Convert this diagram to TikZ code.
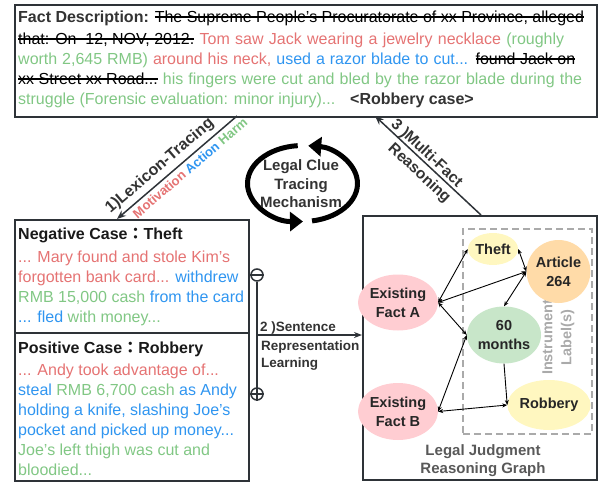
\documentclass[tikz,border=0pt]{standalone}
\usepackage{fontspec}
\setmainfont{Liberation Sans}
\newfontfamily\cjkfont{Noto Sans CJK JP}
\usetikzlibrary{shapes.geometric,arrows.meta}
\definecolor{cred}{HTML}{E57373}
\definecolor{cgreen}{HTML}{81C784}
\definecolor{cblue}{HTML}{2F95F0}
\definecolor{cdark}{HTML}{333333}
\definecolor{cbox}{HTML}{2E3338}
\definecolor{cpink}{HTML}{FFCDD2}
\definecolor{cyellow}{HTML}{FFF7C0}
\definecolor{corange}{HTML}{FFDBA8}
\definecolor{cgreenf}{HTML}{C8E6C9}
\definecolor{cgray}{HTML}{AAAAAA}
\newcommand\cR[1]{\textcolor{cred}{#1}}
\newcommand\cG[1]{\textcolor{cgreen}{#1}}
\newcommand\cB[1]{\textcolor{cblue}{#1}}
\newcommand\fwcolon{{\cjkfont ：}}
\newsavebox\strkbox
\newcommand\strk[1]{\sbox\strkbox{#1}\rlap{\rule[4.4pt]{\wd\strkbox}{1.3pt}}\usebox\strkbox}
\begin{document}
\begin{tikzpicture}[x=1pt,y=1pt,
  box/.style={draw=cbox, line width=1.6pt, inner sep=0pt, anchor=north west},
  txt/.style={anchor=base west, inner sep=0pt, font=\fontsize{16}{19}\selectfont},
  gnode/.style={ellipse, inner sep=0pt, align=center, text=black!85,
    font=\bfseries\fontsize{14.5}{19}\selectfont},
  gedge/.style={line width=0.9pt, {Stealth[length=5pt,width=4pt]}-{Stealth[length=5pt,width=4pt]}},
  gedgeone/.style={line width=0.9pt, -{Stealth[length=5pt,width=4pt]}},
  bigarrow/.style={line width=1.5pt, -{Stealth[length=9pt,width=7pt]}},
  loop/.style={line width=5pt, -{Triangle[length=13pt,width=19pt]}},
  lbl/.style={text=cdark, inner sep=0pt}]
\useasboundingbox (0,0) rectangle (598,-482);

% ---------- fact description box ----------
\node[box, minimum width=582pt, minimum height=112pt] (fact) at (14,-4) {};
\node[txt] (f1) at (18,-22) {\textcolor{cdark}{\bfseries Fact Description:} \strk{The Supreme People's Procuratorate of xx Province, alleged}};
\node[txt] (f2) at (18,-44) {\makebox[546pt][s]{\strk{that: On\ \ 12, NOV, 2012.} \cR{Tom saw Jack wearing a jewelry necklace} \cG{(roughly}}};
\node[txt] (f3) at (18,-64) {\makebox[557pt][s]{\cG{worth 2,645 RMB)} \cR{around his neck,} \cB{used a razor blade to cut...} \strk{found Jack on}}};
\node[txt] (f4) at (18,-84) {\makebox[564pt][s]{\strk{xx Street xx Road...} \cG{his fingers were cut and bled by the razor blade during the}}};
\node[txt] (f5) at (18,-104) {\cG{struggle (Forensic evaluation: minor injury)...}};
\node[txt, font=\bfseries\fontsize{16}{19}\selectfont, text=cdark] (rcase) at (350,-104) {<Robbery case>};

% ---------- case boxes ----------
\node[box, minimum width=234pt, minimum height=113pt] (neg) at (14,-219) {};
\node[box, minimum width=234pt, minimum height=148pt] (pos) at (14,-332) {};
\node[txt, font=\bfseries\fontsize{16}{19}\selectfont, text=black!90] (n0) at (18,-239) {Negative Case\fwcolon Theft};
\node[txt] (n1) at (18,-262) {\cR{... Mary found and stole Kim's}};
\node[txt] (n2) at (18,-282) {\cR{forgotten bank card...} \cB{withdrew}};
\node[txt] (n3) at (18,-302) {\cG{RMB 15,000 cash} \cB{from the card}};
\node[txt] (n4) at (18,-322) {\cB{... fled} \cG{with money...}};
\node[txt, font=\bfseries\fontsize{16}{19}\selectfont, text=black!90] (p0) at (18,-353) {Positive Case\fwcolon Robbery};
\node[txt] (p1) at (18,-375) {\cR{... Andy took advantage of...}};
\node[txt] (p2) at (18,-395.5) {\cB{steal} \cG{RMB 6,700 cash} \cB{as Andy}};
\node[txt] (p3) at (18,-415.5) {\cB{holding a knife, slashing Joe's}};
\node[txt] (p4) at (18,-435.5) {\cB{pocket and picked up money...}};
\node[txt] (p5) at (18,-455.5) {\cG{Joe's left thigh was cut and}};
\node[txt] (p6) at (18,-475.5) {\cG{bloodied...}};

% ---------- graph box ----------
\node[box, minimum width=234pt, minimum height=264pt] (graph) at (362,-215) {};
\node[draw=cgray, line width=1.6pt, dash pattern=on 7pt off 4pt, inner sep=0pt,
  minimum width=129pt, minimum height=205pt, anchor=north west] (instr) at (462,-228) {};
\node[rotate=90, align=center, text=cgray, font=\bfseries\fontsize{14.5}{19}\selectfont] (instrlbl) at (558.5,-337.5) {Instrument\\Label(s)};

\node[gnode, fill=cyellow, minimum width=48pt, minimum height=32pt] (theft) at (493,-249) {Theft};
\node[gnode, fill=corange, minimum width=57pt, minimum height=63pt] (art) at (558.5,-271.5) {Article\\264};
\node[gnode, fill=cgreenf, minimum width=62pt, minimum height=57pt] (months) at (504,-335) {60\\months};
\node[gnode, fill=cyellow, minimum width=78pt, minimum height=50pt] (robbery) at (549,-405) {Robbery};
\node[gnode, fill=cpink, minimum width=62pt, minimum height=56pt] (factA) at (398,-302.5) {Existing\\Fact A};
\node[gnode, fill=cpink, minimum width=62pt, minimum height=57pt] (factB) at (398,-411.5) {Existing\\Fact B};

\draw[gedge] (factA.east) -- (theft.west);
\draw[gedge] (factA.east) -- (art.west);
\draw[gedge] (factA.east) -- (months.west);
\draw[gedge] (factB.east) -- (months.west);
\draw[gedge] (factB.east) -- (robbery.west);
\draw[gedge] (theft.east) -- (art.west);
\draw[gedge] (art.west) -- (months.north);
\draw[gedgeone] (months.south) -- (robbery.west);

\node[align=center, text=black!65, font=\bfseries\fontsize{15}{18}\selectfont] (ljrg) at (483,-461) {Legal Judgment\\Reasoning Graph};

% ---------- legal clue tracing loop ----------
\draw[loop] (302.5,-183.5) ++(95:55 and 38) arc[start angle=95, end angle=270.5, x radius=55, y radius=38];
\draw[loop] (302.5,-183.5) ++(280:55 and 38) arc[start angle=280, end angle=444, x radius=55, y radius=38];
\node[align=center, text=cdark, font=\bfseries\fontsize{15}{18.5}\selectfont] (mech) at (301,-184) {Legal Clue\\Tracing\\Mechanism};

% ---------- arrow 1 ----------
\coordinate (a1s) at (237,-116);
\coordinate (a1e) at (117,-219);
\draw[bigarrow, draw=cbox] (a1s) -- (a1e);
\node[lbl, rotate=40.6, font=\bfseries\fontsize{16}{19}\selectfont] (lex) at (160,-166) {1)Lexicon-Tracing};
\node[lbl, rotate=40.6, font=\bfseries\fontsize{13}{16}\selectfont] (mah) at (190,-168) {\cR{Motivation} \cB{Action} \cG{Harm}};

% ---------- arrow 3 ----------
\coordinate (a3s) at (481,-215);
\coordinate (a3e) at (375,-116);
\draw[bigarrow, draw=cbox] (a3s) -- (a3e);
\node[lbl, rotate=-43, font=\bfseries\fontsize{15.5}{19}\selectfont] (mf) at (426.5,-153.5) {3 )Multi-Fact};
\node[lbl, rotate=-43, font=\bfseries\fontsize{15.5}{19}\selectfont] (reas) at (419,-173.5) {Reasoning};

% ---------- arrow 2 ----------
\node[circle, draw=cbox, line width=1.5pt, minimum size=12pt, inner sep=0pt] (minus) at (257,-275) {};
\node[circle, draw=cbox, line width=1.5pt, minimum size=12pt, inner sep=0pt] (plus) at (257,-394) {};
\draw[cbox, line width=1.5pt] (minus.west) -- (minus.east);
\draw[cbox, line width=1.5pt] (plus.west) -- (plus.east);
\draw[cbox, line width=1.5pt] (plus.north) -- (plus.south);
\draw[cbox, line width=1.5pt] (minus.south) -- (plus.north);
\coordinate (jn) at (257,-335);
\draw[cbox, line width=1.3pt, -{Stealth[length=8pt,width=6pt]}] (jn) -- (jn -| graph.west);
\node[txt, font=\bfseries\fontsize{13.5}{17}\selectfont, text=cdark] (s1) at (260,-331.5) {2 )Sentence};
\node[txt, font=\bfseries\fontsize{13.5}{17}\selectfont, text=cdark] (s2) at (261,-350.5) {Representation};
\node[txt, font=\bfseries\fontsize{13.5}{17}\selectfont, text=cdark] (s3) at (261,-367.5) {Learning};
\end{tikzpicture}
\end{document}
